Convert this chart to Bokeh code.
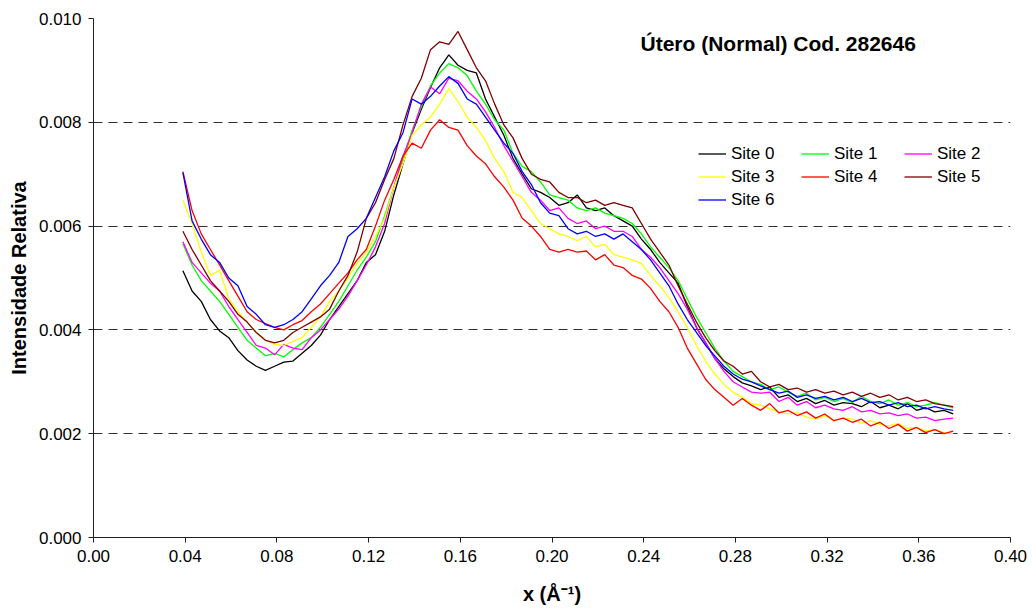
from bokeh.plotting import figure
from bokeh.models import Range1d, FixedTicker, NumeralTickFormatter, Legend, LegendItem, Label
from bokeh.embed import file_html
from bokeh.resources import INLINE
import numpy as np

# x positions (Å^-1)
x_start = 0.039
x_step = 0.004
n_points = 85
x_vals = [round(x_start + x_step * i, 3) for i in range(n_points)]

# Relative intensity (units of 1e-3)
site0 = [5.14, 4.75, 4.55, 4.20, 3.98, 3.85, 3.60, 3.42, 3.30, 3.22,
         3.30, 3.38, 3.40, 3.55, 3.70, 3.90, 4.20, 4.45, 4.70, 4.95,
         5.30, 5.45, 5.90, 6.60, 7.20, 7.80, 8.25, 8.67, 9.05, 9.30,
         9.10, 9.00, 8.95, 8.45, 8.10, 7.75, 7.30, 7.00, 6.72, 6.65,
         6.55, 6.40, 6.45, 6.60, 6.35, 6.30, 6.35, 6.20, 6.10, 6.00,
         5.75, 5.55, 5.30, 5.10, 4.90, 4.45, 4.05, 3.75, 3.45, 3.25,
         3.10, 2.98, 2.92, 2.85, 2.90, 2.70, 2.75, 2.62, 2.68, 2.58,
         2.64, 2.55, 2.60, 2.58, 2.52, 2.62, 2.50, 2.55, 2.48, 2.58,
         2.45, 2.50, 2.42, 2.45, 2.38]
site1 = [5.66, 5.25, 4.95, 4.75, 4.55, 4.30, 4.05, 3.80, 3.65, 3.50,
         3.55, 3.48, 3.62, 3.75, 3.85, 4.05, 4.30, 4.55, 4.85, 5.15,
         5.40, 5.70, 6.20, 6.75, 7.30, 7.85, 8.30, 8.70, 8.95, 9.13,
         9.05, 8.90, 8.60, 8.35, 8.05, 7.85, 7.40, 7.15, 7.05, 6.85,
         6.60, 6.55, 6.50, 6.35, 6.30, 6.35, 6.25, 6.20, 6.15, 6.05,
         5.85, 5.60, 5.40, 5.20, 4.95, 4.60, 4.25, 3.95, 3.65, 3.40,
         3.20, 3.10, 3.00, 2.95, 2.85, 2.90, 2.80, 2.72, 2.78, 2.65,
         2.70, 2.62, 2.68, 2.60, 2.72, 2.62, 2.58, 2.65, 2.55, 2.60,
         2.52, 2.55, 2.60, 2.55, 2.50]
site2 = [5.70, 5.30, 5.10, 4.90, 4.75, 4.45, 4.20, 3.95, 3.70, 3.65,
         3.52, 3.72, 3.65, 3.62, 3.85, 4.00, 4.20, 4.40, 4.65, 4.95,
         5.25, 5.60, 6.05, 6.75, 7.35, 7.80, 8.35, 8.68, 8.55, 8.85,
         8.80, 8.60, 8.45, 8.20, 7.90, 7.55, 7.25, 6.95, 6.65, 6.50,
         6.30, 6.35, 6.15, 6.05, 6.10, 5.95, 6.00, 5.90, 5.90, 5.80,
         5.55, 5.40, 5.20, 4.95, 4.70, 4.40, 4.05, 3.75, 3.45, 3.20,
         3.00, 2.90, 2.80, 2.78, 2.80, 2.62, 2.70, 2.55, 2.62, 2.50,
         2.55, 2.48, 2.45, 2.52, 2.42, 2.45, 2.38, 2.40, 2.35, 2.38,
         2.30, 2.32, 2.25, 2.28, 2.30]
site3 = [6.50, 6.05, 5.50, 5.05, 5.15, 4.60, 4.35, 4.15, 3.95, 3.80,
         3.72, 3.70, 3.78, 3.85, 4.05, 4.25, 4.55, 4.75, 5.00, 5.28,
         5.50, 5.80, 6.15, 6.75, 7.20, 7.75, 7.95, 8.10, 8.35, 8.65,
         8.40, 8.10, 7.90, 7.65, 7.30, 7.05, 6.65, 6.55, 6.30, 6.05,
         5.95, 5.85, 5.80, 5.72, 5.80, 5.60, 5.65, 5.45, 5.40, 5.35,
         5.28, 5.05, 4.85, 4.62, 4.35, 4.05, 3.70, 3.40, 3.15, 2.95,
         2.80, 2.70, 2.58, 2.55, 2.48, 2.42, 2.38, 2.40, 2.32, 2.28,
         2.35, 2.25, 2.30, 2.28, 2.20, 2.25, 2.18, 2.15, 2.20, 2.10,
         2.12, 2.05, 2.08, 2.02, 2.00]
site4 = [7.05, 6.30, 5.85, 5.55, 5.25, 4.95, 4.65, 4.35, 4.20, 4.12,
         4.05, 4.00, 4.10, 4.18, 4.35, 4.50, 4.70, 4.90, 5.10, 5.35,
         5.55, 6.00, 6.50, 6.90, 7.35, 7.60, 7.50, 7.85, 8.05, 7.90,
         7.85, 7.55, 7.35, 7.20, 6.95, 6.75, 6.50, 6.15, 6.00, 5.80,
         5.55, 5.50, 5.55, 5.50, 5.52, 5.35, 5.45, 5.25, 5.20, 5.05,
         4.98, 4.80, 4.55, 4.35, 4.05, 3.65, 3.35, 3.05, 2.85, 2.70,
         2.55, 2.68, 2.55, 2.45, 2.58, 2.40, 2.45, 2.35, 2.42, 2.30,
         2.38, 2.25, 2.30, 2.22, 2.28, 2.15, 2.22, 2.10, 2.18, 2.05,
         2.12, 2.02, 2.08, 2.00, 2.05]
site5 = [5.90, 5.55, 5.25, 4.95, 4.75, 4.55, 4.30, 4.15, 3.95, 3.80,
         3.75, 3.80, 3.95, 4.05, 4.15, 4.25, 4.40, 4.75, 5.05, 5.50,
         6.15, 6.45, 6.90, 7.30, 7.95, 8.50, 8.85, 9.40, 9.55, 9.50,
         9.75, 9.40, 9.05, 8.80, 8.35, 7.95, 7.70, 7.30, 7.00, 6.90,
         6.85, 6.65, 6.55, 6.55, 6.45, 6.50, 6.40, 6.45, 6.40, 6.35,
         6.05, 5.75, 5.50, 5.25, 4.85, 4.50, 4.15, 3.85, 3.60, 3.40,
         3.30, 3.15, 3.20, 3.00, 2.90, 2.95, 2.85, 2.88, 2.80, 2.85,
         2.78, 2.82, 2.75, 2.80, 2.72, 2.78, 2.70, 2.75, 2.65, 2.70,
         2.62, 2.65, 2.58, 2.55, 2.52]
site6 = [7.03, 6.10, 5.75, 5.45, 5.30, 5.00, 4.85, 4.45, 4.30, 4.10,
         4.05, 4.10, 4.20, 4.35, 4.60, 4.85, 5.05, 5.30, 5.80, 5.95,
         6.15, 6.55, 6.95, 7.45, 7.80, 8.45, 8.35, 8.50, 8.70, 8.88,
         8.75, 8.45, 8.35, 8.10, 7.85, 7.60, 7.40, 7.05, 6.80, 6.45,
         6.25, 6.20, 5.95, 5.85, 5.90, 5.80, 5.85, 5.75, 5.85, 5.70,
         5.55, 5.35, 5.10, 4.85, 4.50, 4.20, 3.95, 3.70, 3.50, 3.30,
         3.15, 3.05, 3.00, 2.92, 2.85, 2.78, 2.82, 2.70, 2.75, 2.68,
         2.72, 2.65, 2.70, 2.62, 2.68, 2.60, 2.62, 2.55, 2.60, 2.52,
         2.55, 2.48, 2.52, 2.48, 2.45]
unit = 1e-3

series_names = ["Site 0", "Site 1", "Site 2", "Site 3", "Site 4", "Site 5", "Site 6"]
series_values = [site0, site1, site2, site3, site4, site5, site6]
series_colors = ["#000000", "#00FF00", "#FF00FF", "#FFFF00", "#FF0000", "#800000", "#0000FF"]

x_ticks = [0.00, 0.04, 0.08, 0.12, 0.16, 0.20, 0.24, 0.28, 0.32, 0.36, 0.40]
y_ticks = [0.000, 0.002, 0.004, 0.006, 0.008, 0.010]

title_text = "Útero (Normal) Cod. 282646"
x_label = "x (Å⁻¹)"
y_label = "Intensidade Relativa"

FONT = "Liberation Sans"

p = figure(width=1032, height=612, output_backend="svg", toolbar_location=None,
           x_range=Range1d(0, 0.40), y_range=Range1d(0, 0.010),
           min_border_left=93, min_border_right=22, min_border_top=18, min_border_bottom=75)
p.outline_line_color = None
p.background_fill_color = "white"
p.border_fill_color = "white"

renderers = []
for name, vals, col in zip(series_names, series_values, series_colors):
    r = p.line(x_vals, np.array(vals) * unit, line_color=col, line_width=1.3)
    renderers.append(r)

# axes
p.xaxis.ticker = FixedTicker(ticks=x_ticks)
p.yaxis.ticker = FixedTicker(ticks=y_ticks)
p.xaxis.formatter = NumeralTickFormatter(format="0.00")
p.yaxis.formatter = NumeralTickFormatter(format="0.000")
for ax in (p.xaxis, p.yaxis):
    ax.axis_line_color = "#202020"
    ax.major_tick_line_color = "#202020"
    ax.major_tick_out = 5
    ax.major_tick_in = 0
    ax.minor_tick_line_color = None
    ax.major_label_text_font = FONT
    ax.major_label_text_font_size = "17px"
    ax.major_label_text_color = "black"
    ax.axis_label_text_font = FONT
    ax.axis_label_text_font_size = "20px"
    ax.axis_label_text_font_style = "bold"
    ax.axis_label_text_color = "black"
    ax.major_label_standoff = 7
p.xaxis.axis_label = x_label
p.yaxis.axis_label = y_label
p.xaxis.axis_label_standoff = 18
p.yaxis.axis_label_standoff = 6

p.xgrid.grid_line_color = None
p.ygrid.grid_line_color = "#303030"
p.ygrid.grid_line_dash = "9 6"
p.ygrid.grid_line_width = 1

legend = Legend(items=[LegendItem(label=n, renderers=[r]) for n, r in zip(series_names, renderers)],
                orientation="horizontal", ncols=3, location=(605, 326),
                padding=0, margin=0, spacing=0,
                glyph_width=28, glyph_height=23, label_width=70, label_height=23,
                label_standoff=5,
                label_text_font=FONT, label_text_font_size="17px", label_text_color="black",
                border_line_color=None, background_fill_alpha=0)
p.add_layout(legend)

title = Label(x=547, y=494, x_units="screen", y_units="screen", text=title_text,
              text_font=FONT, text_font_size="21px", text_font_style="bold",
              text_baseline="middle", text_color="black")
p.add_layout(title)

open("out.html", "w").write(file_html(p, INLINE))
